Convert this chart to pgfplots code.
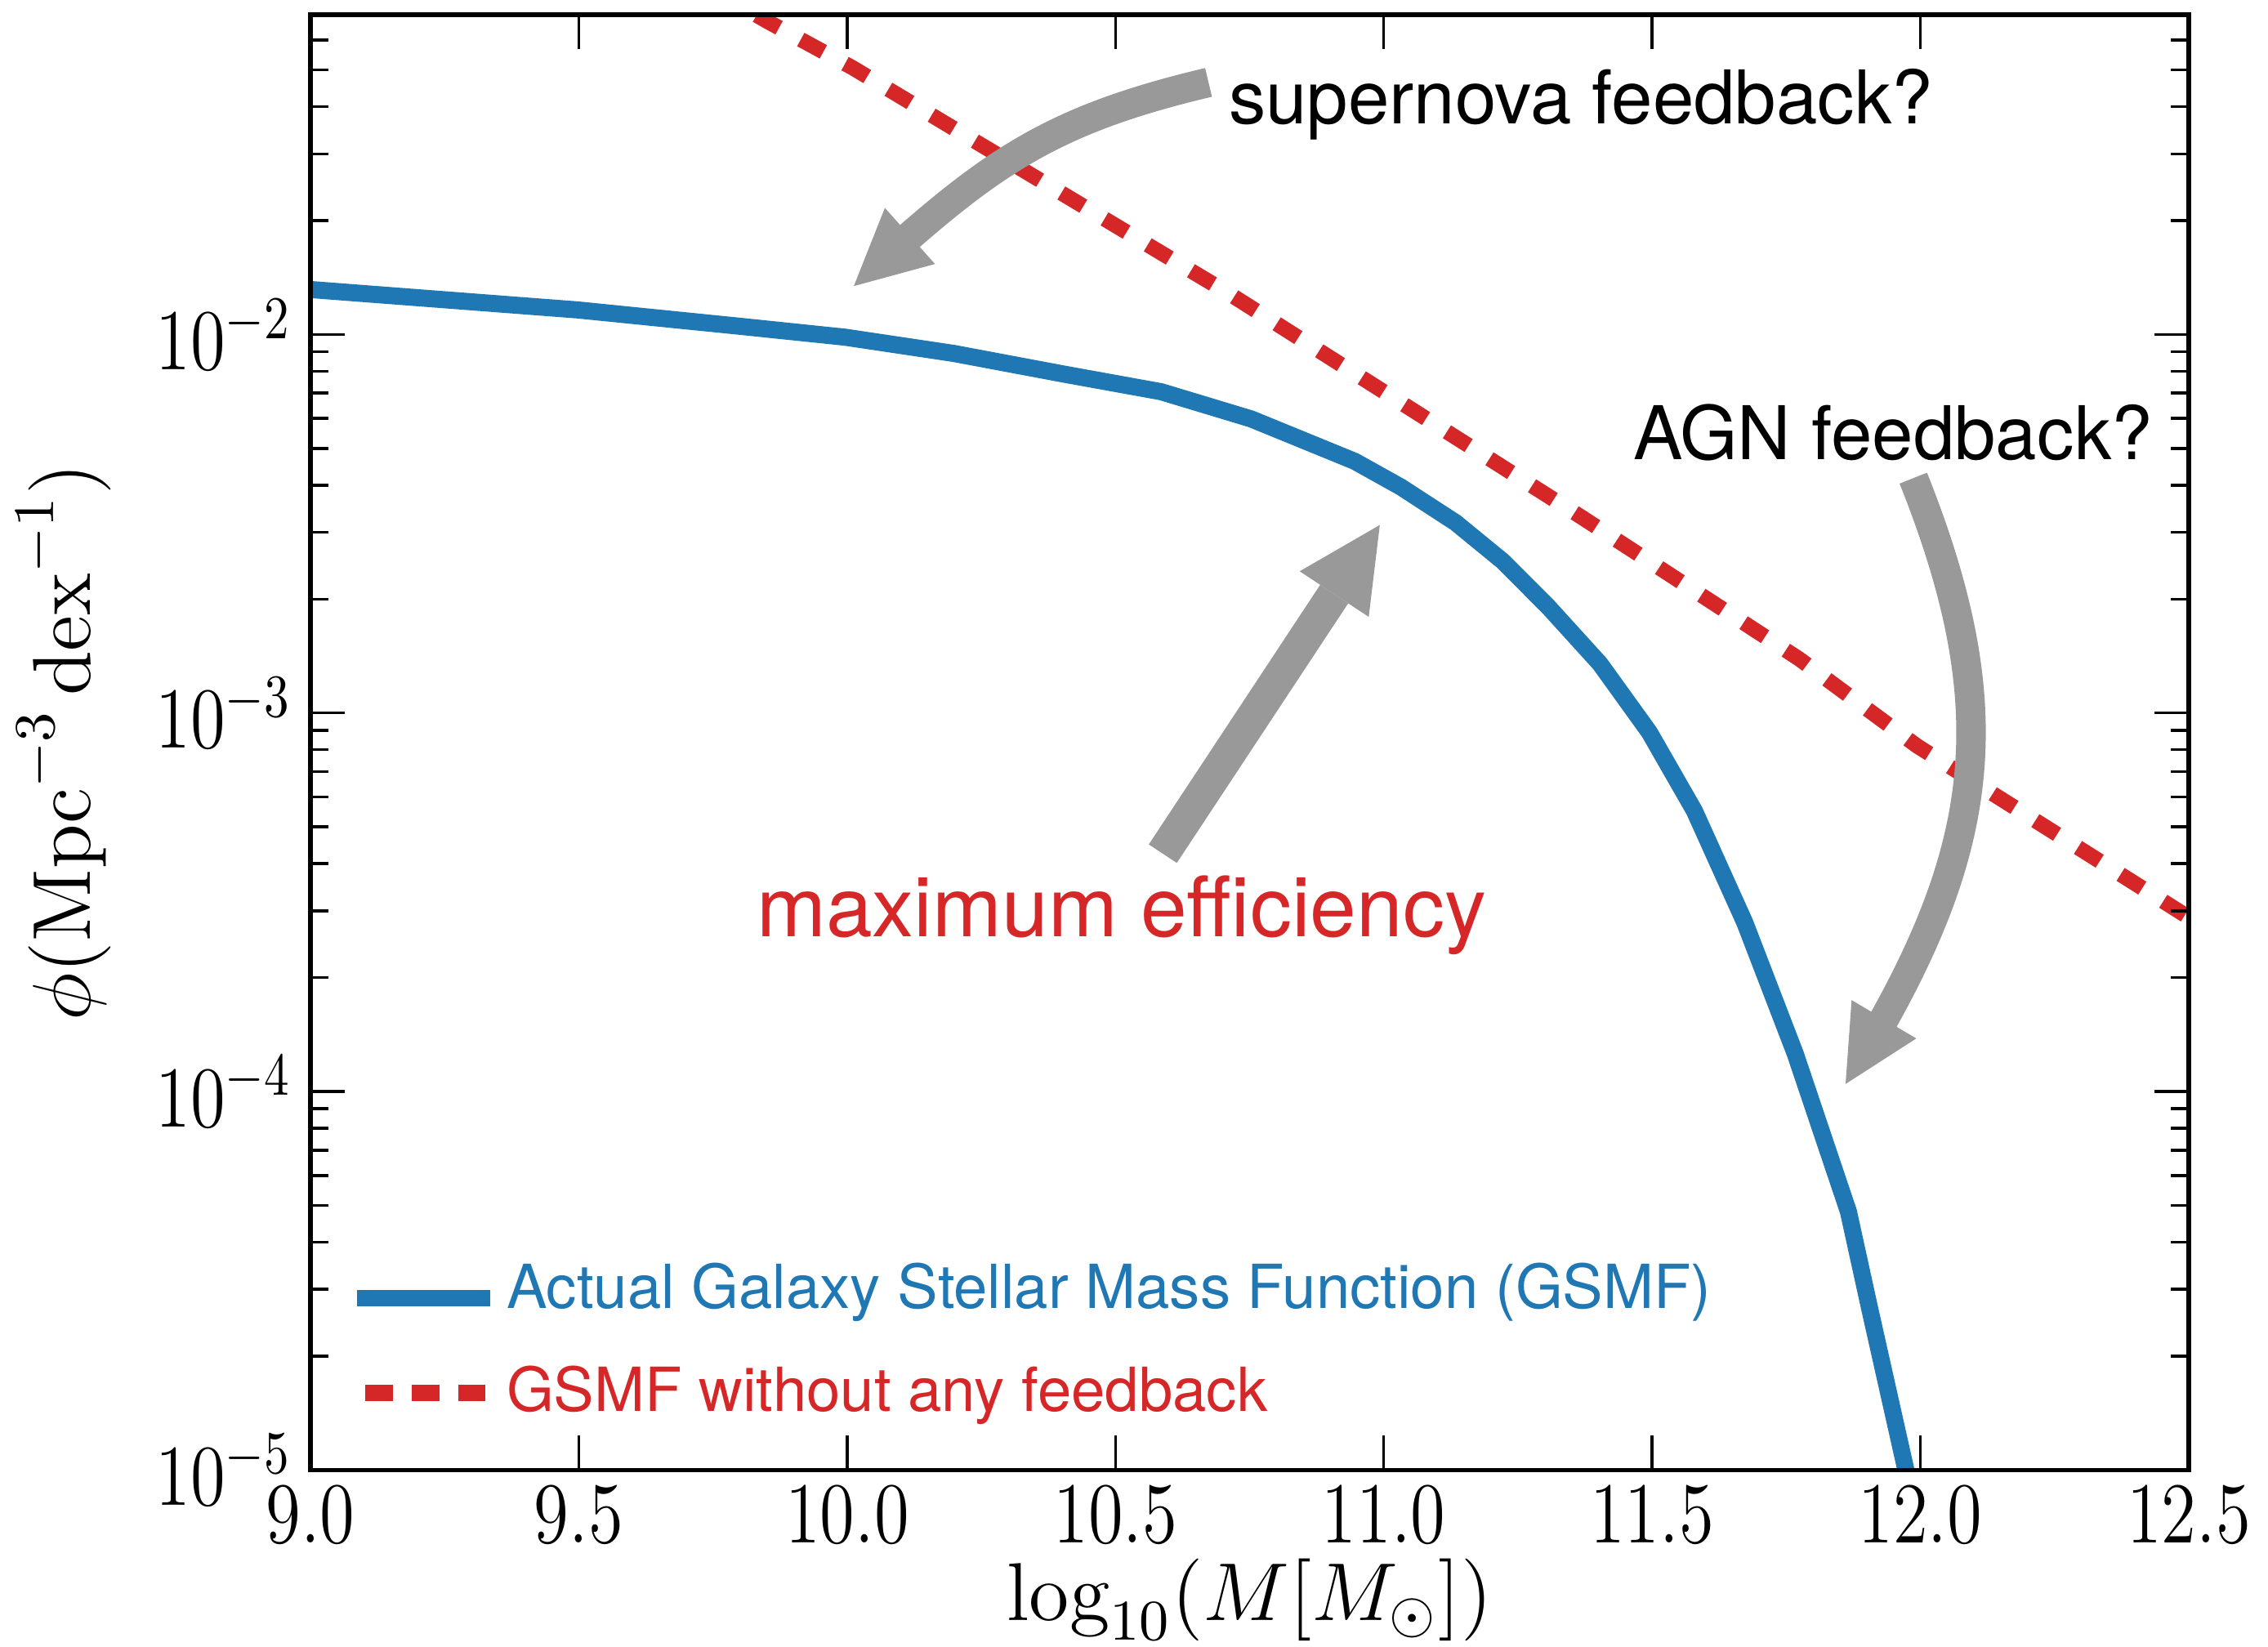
\RequirePackage{fix-cm}
\documentclass[border=0pt]{standalone}
\usepackage{fontspec}
\usepackage{graphicx}
\usepackage{pgfplots}
\pgfplotsset{compat=1.18}
\usetikzlibrary{arrows.meta,bending}
\newfontfamily\helv{TeX Gyre Heros}
\definecolor{mplblue}{RGB}{31,119,180}
\definecolor{mplred}{RGB}{214,39,40}
\definecolor{arrowgray}{RGB}{153,153,153}
\newcommand{\tl}[1]{\scalebox{0.82}[1]{$#1$}}

\begin{document}
\begin{tikzpicture}
\begin{axis}[
    at={(0pt,0pt)}, anchor=south west,
    scale only axis, width=324.6pt, height=251.5pt,
    xmin=9, xmax=12.5,
    ymode=log, ymin=1e-5, ymax=0.07,
    axis on top,
    tick pos=both, tick align=inside,
    major tick length=5.9pt, minor tick length=3.1pt,
    every tick/.style={black, line width=0.5pt},
    axis line style={black, line width=0.76pt},
    xtick={9,9.5,10,10.5,11,11.5,12,12.5},
    xticklabels={\tl{9.0},\tl{9.5},\tl{10.0},\tl{10.5},\tl{11.0},\tl{11.5},\tl{12.0},\tl{12.5}},
    ytick={1e-5,1e-4,1e-3,1e-2},
    yticklabels={\tl{10^{-5}},\tl{10^{-4}},\tl{10^{-3}},\tl{10^{-2}}},
    minor ytick={2e-5,3e-5,4e-5,5e-5,6e-5,7e-5,8e-5,9e-5,
                 2e-4,3e-4,4e-4,5e-4,6e-4,7e-4,8e-4,9e-4,
                 2e-3,3e-3,4e-3,5e-3,6e-3,7e-3,8e-3,9e-3,
                 2e-2,3e-2,4e-2,5e-2,6e-2},
    ticklabel style={font=\fontsize{15}{18}\selectfont},
    xticklabel style={anchor=north, inner sep=0pt, yshift=-2.7pt},
    yticklabel style={anchor=east, inner sep=0pt, xshift=-3.1pt},
    xlabel={$\log_{10}(M[M_\odot])$},
    ylabel={$\phi(\mathrm{Mpc}^{-3}\,\mathrm{dex}^{-1})$},
    every axis x label/.style={at={(axis description cs:0.5,0)}, yshift=-26pt, anchor=base,
        font=\fontsize{14.2}{17}\selectfont},
    every axis y label/.style={at={(axis description cs:-0.1315,0.5)}, rotate=90, anchor=center,
        font=\fontsize{14.2}{17}\selectfont},
    legend style={draw=none, fill=none, inner sep=0pt, outer sep=0pt,
        at={(axis description cs:0,0.0320)}, anchor=south west, xshift=-1.45pt,
        row sep=8.05pt, column sep=0pt, cells={anchor=west},
        nodes={inner sep=0pt, text height=7.5pt, text depth=2.15pt},
        font=\helv\fontsize{10.5}{12.6}\selectfont},
]
% actual GSMF
\addplot[mplblue, line width=2.95pt, line join=round,
    legend image code/.code={\path (0pt,0pt) (32.4pt,0pt);
        \draw[mplblue, line width=2.8pt] (8.05pt,-0.9pt) -- (31.1pt,-0.9pt);}]
coordinates {
    (9.000,1.315e-2) (9.498,1.1614e-2) (9.793,1.054e-2) (9.996,9.84e-3)
    (10.199,8.913e-3) (10.402,7.87e-3) (10.585,7.063e-3) (10.753,5.984e-3)
    (10.946,4.624e-3) (11.032,3.954e-3) (11.134,3.184e-3) (11.221,2.523e-3)
    (11.307,1.905e-3) (11.403,1.349e-3) (11.495,8.89e-4) (11.579,5.51e-4)
    (11.673,2.79e-4) (11.767,1.256e-4) (11.866,4.81e-5) (11.905,2.69e-5)
    (11.973,1.0e-5) (12.000,6.61e-6)
};
\addlegendentry{\textcolor{mplblue}{Actual Galaxy Stellar Mass Function (GSMF)}}
% no feedback
\addplot[mplred, line width=2.63pt, line cap=butt, dash pattern=on 4.44pt off 4.27pt,
    legend image code/.code={\path (0pt,0pt) (32.4pt,0pt);
        \draw[mplred, line width=2.8pt, line cap=butt, dash pattern=on 4.8pt off 3.25pt] (9.4pt,0.4pt) -- (30.2pt,0.4pt);}]
coordinates {
    (9.750,8.13e-2) (9.852,6.714e-2) (10.009,5.08e-2) (10.712,1.282e-2)
    (11.368,3.296e-3) (11.774,1.39e-3) (11.994,8.18e-4) (12.500,2.884e-4)
};
\addlegendentry{\textcolor{mplred}{GSMF without any feedback}}
\end{axis}

% annotations
\draw[arrowgray, line width=5.1pt, -{Triangle[length=13pt,width=13pt,line width=0pt]}]
    (155.2pt,239.8pt) .. controls (126.0pt,232.9pt) and (116.2pt,224.8pt) .. (93.9pt,204.6pt);
\draw[arrowgray, line width=5.1pt, -{Triangle[length=13pt,width=13pt,line width=0pt]}]
    (277.0pt,171.4pt) .. controls (293.7pt,129.6pt) and (289.2pt,105pt) .. (265.3pt,66.7pt);
\draw[arrowgray, line width=5.8pt, -{Triangle[length=14.3pt,width=14.3pt,line width=0pt]}]
    (147.3pt,106.5pt) -- (184.8pt,163.3pt);

\node[anchor=base west, inner sep=0pt, font=\helv\fontsize{12.8}{15}\selectfont]
    at (158.5pt,232.6pt) {supernova feedback?};
\node[anchor=base west, inner sep=0pt, font=\helv\fontsize{12.8}{15}\selectfont]
    at (228.4pt,174.6pt) {AGN feedback?};
\node[anchor=base west, inner sep=0pt, text=mplred, font=\helv\fontsize{14.4}{17}\selectfont]
    at (76.9pt,92.1pt) {maximum efficiency};

\pgfresetboundingbox
\path (-53.66pt,-30.5pt) rectangle (338.3pt,254.04pt);
\end{tikzpicture}
\end{document}
